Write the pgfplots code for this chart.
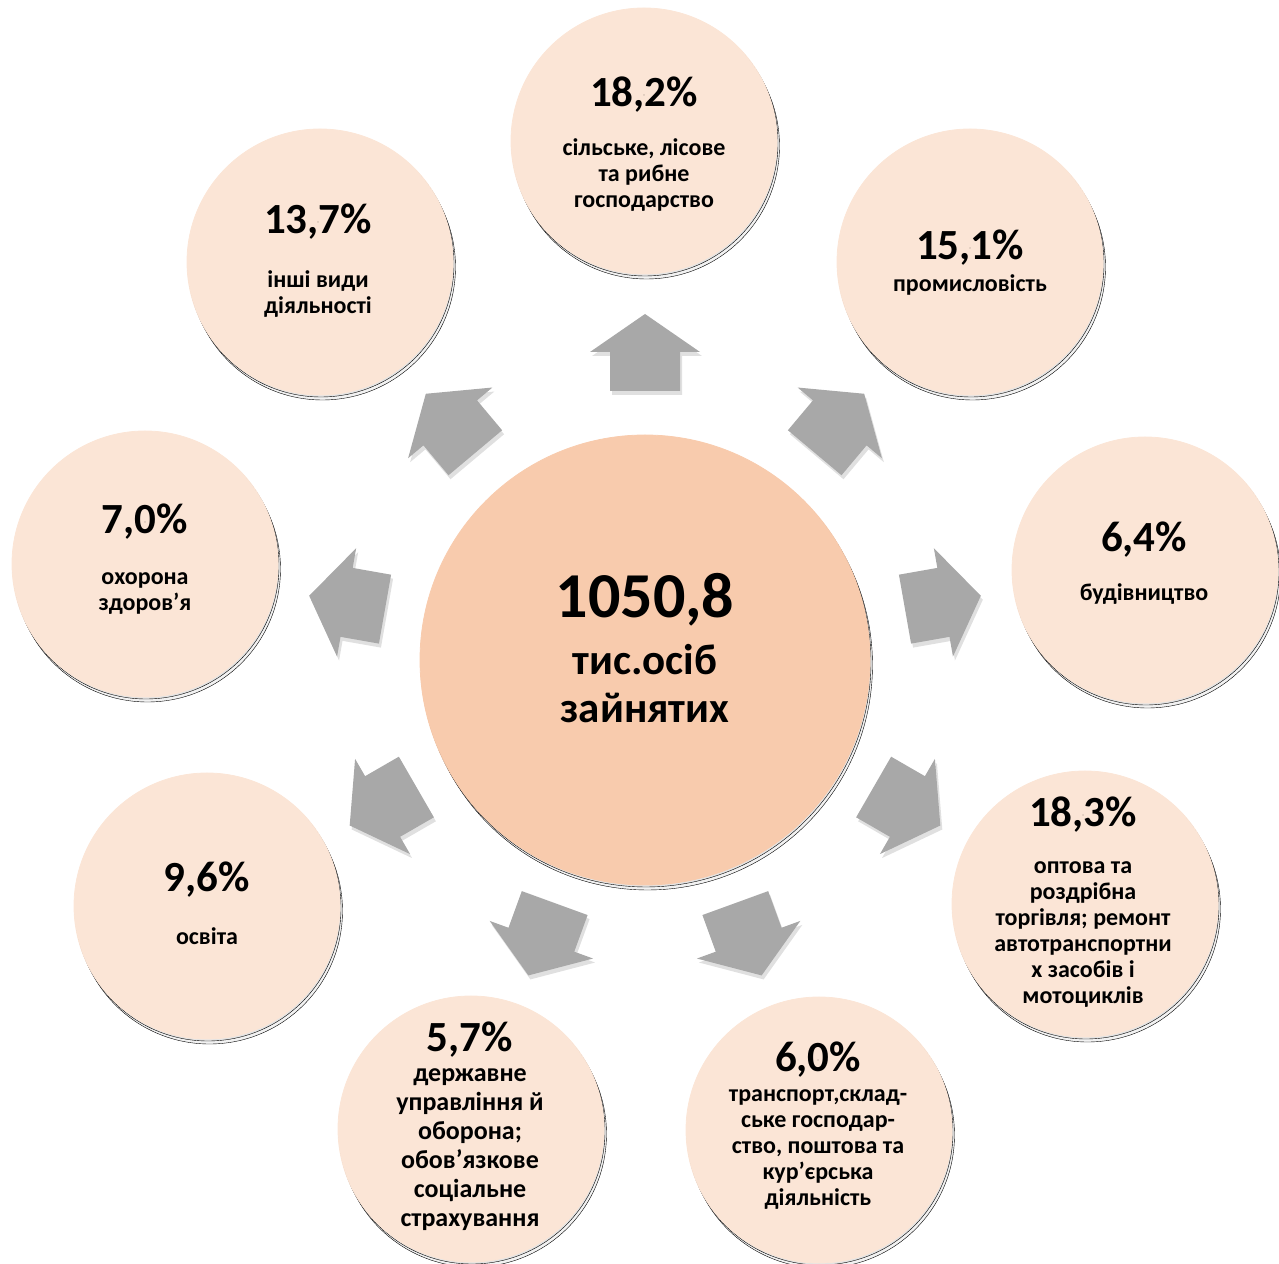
\documentclass[border=0pt]{standalone}
\usepackage{pgfplots}
\usepackage{pgfplotstable}
\pgfplotsset{compat=1.18}
\usepackage{fontspec}
\setmainfont{Carlito}
\definecolor{outerc}{HTML}{FBE5D6}
\definecolor{innerc}{HTML}{F8CBAD}
\definecolor{arrc}{HTML}{A8A8A8}
\tikzset{desc/.style={align=center, anchor=center, inner sep=0pt, text=black, font=\fontsize{24}{26}\selectfont\bfseries}}

\pgfplotstableread{
x y
644 1122
970 1001
1145 693
1085 359
819 133
471 134
207 357
145 699
320 1001
}\circs

\newcommand{\bigarrow}[1]{%
  \begin{scope}[shift={(axis cs:647,604)}, rotate=#1]
    \fill[black, opacity=0.12] (264pt,-35pt) -- (303pt,-35pt) -- (303pt,-55pt) -- (341pt,0pt) -- (303pt,55pt) -- (303pt,35pt) -- (264pt,35pt) -- cycle;
  \end{scope}
  \begin{scope}[shift={(axis cs:645,608)}, rotate=#1]
    \fill[arrc] (264pt,-35pt) -- (303pt,-35pt) -- (303pt,-55pt) -- (341pt,0pt) -- (303pt,55pt) -- (303pt,35pt) -- (264pt,35pt) -- cycle;
  \end{scope}}

\begin{document}
\begin{tikzpicture}
\begin{axis}[x=1pt, y=1pt, xmin=0, xmax=1279, ymin=0, ymax=1263,
  hide axis, clip=false, at={(0,0)}, anchor=south west, set layers=standard]
% shadows
\addplot[only marks, mark=*, mark size=133pt, mark options={draw=none, fill=black, fill opacity=0.06}, xshift=1pt, yshift=-2pt] table {\circs};
\addplot[only marks, mark=*, mark size=133pt, mark options={draw=none, fill=black, fill opacity=0.05}, xshift=2.5pt, yshift=-5pt] table {\circs};
\addplot[only marks, mark=*, mark size=225pt, mark options={draw=none, fill=black, fill opacity=0.06}, xshift=1pt, yshift=-2pt] coordinates {(645,603)};
\addplot[only marks, mark=*, mark size=225pt, mark options={draw=none, fill=black, fill opacity=0.05}, xshift=2.5pt, yshift=-5pt] coordinates {(645,603)};
% circles
\addplot[only marks, mark=*, mark size=133pt, mark options={draw=outerc, line width=0.8pt, fill=outerc}] table {\circs};
\addplot[only marks, mark=*, mark size=225pt, mark options={draw=innerc, line width=0.8pt, fill=innerc}] coordinates {(645,603)};
% arrows
\bigarrow{90}\bigarrow{50}\bigarrow{10}\bigarrow{-30}\bigarrow{-70}
\bigarrow{-110}\bigarrow{-150}\bigarrow{170}\bigarrow{130}
% percentages
\addplot[only marks, mark=*, mark size=0.01pt, mark options={draw=none, fill=none},
  point meta=explicit symbolic, nodes near coords,
  nodes near coords style={anchor=center, text=black, inner sep=0pt, font=\fontsize{43}{47}\selectfont\bfseries}]
  coordinates {
  (644,1168) [18,2\%]
  (970,1015) [15,1\%]
  (1144,723) [6,4\%]
  (1083,448) [18,3\%]
  (818,203) [6,0\%]
  (470,223) [5,7\%]
  (207,383) [9,6\%]
  (145,741) [7,0\%]
  (318,1041) [13,7\%]
  };
\addplot[only marks, mark=*, mark size=0.01pt, mark options={draw=none, fill=none},
  point meta=explicit symbolic, nodes near coords,
  nodes near coords style={anchor=center, text=black, inner sep=0pt, font=\fontsize{64}{68}\selectfont\bfseries}]
  coordinates {(645,663) [1050,8]};
\begin{pgfonlayer}{axis foreground}
\node[desc] at (axis cs:644,1088) {сільське, лісове\\та рибне\\господарство};
\node[desc] at (axis cs:970,978) {промисловість};
\node[desc] at (axis cs:1144,669) {будівництво};
\node[desc] at (axis cs:1083,328) {оптова та\\роздрібна\\торгівля; ремонт\\автотранспортни\\х засобів і\\мотоциклів};
\node[desc] at (axis cs:818,113) {транспорт,склад-\\ське господар-\\ство, поштова та\\кур’єрська\\діяльність};
\node[desc, font=\fontsize{26}{29}\selectfont\bfseries] at (axis cs:470,113.5) {державне\\управління й\\оборона;\\обов’язкове\\соціальне\\страхування};
\node[desc] at (axis cs:207,327) {освіта};
\node[desc] at (axis cs:145,669.5) {охорона\\здоров’я};
\node[desc] at (axis cs:318,969) {інші види\\діяльності};
\node[desc, font=\fontsize{43}{48}\selectfont\bfseries] at (axis cs:645,579) {тис.осіб\\зайнятих};
\end{pgfonlayer}
\end{axis}
\pgfresetboundingbox
\path (0,0) rectangle (1279pt,1263pt);
\end{tikzpicture}
\end{document}
